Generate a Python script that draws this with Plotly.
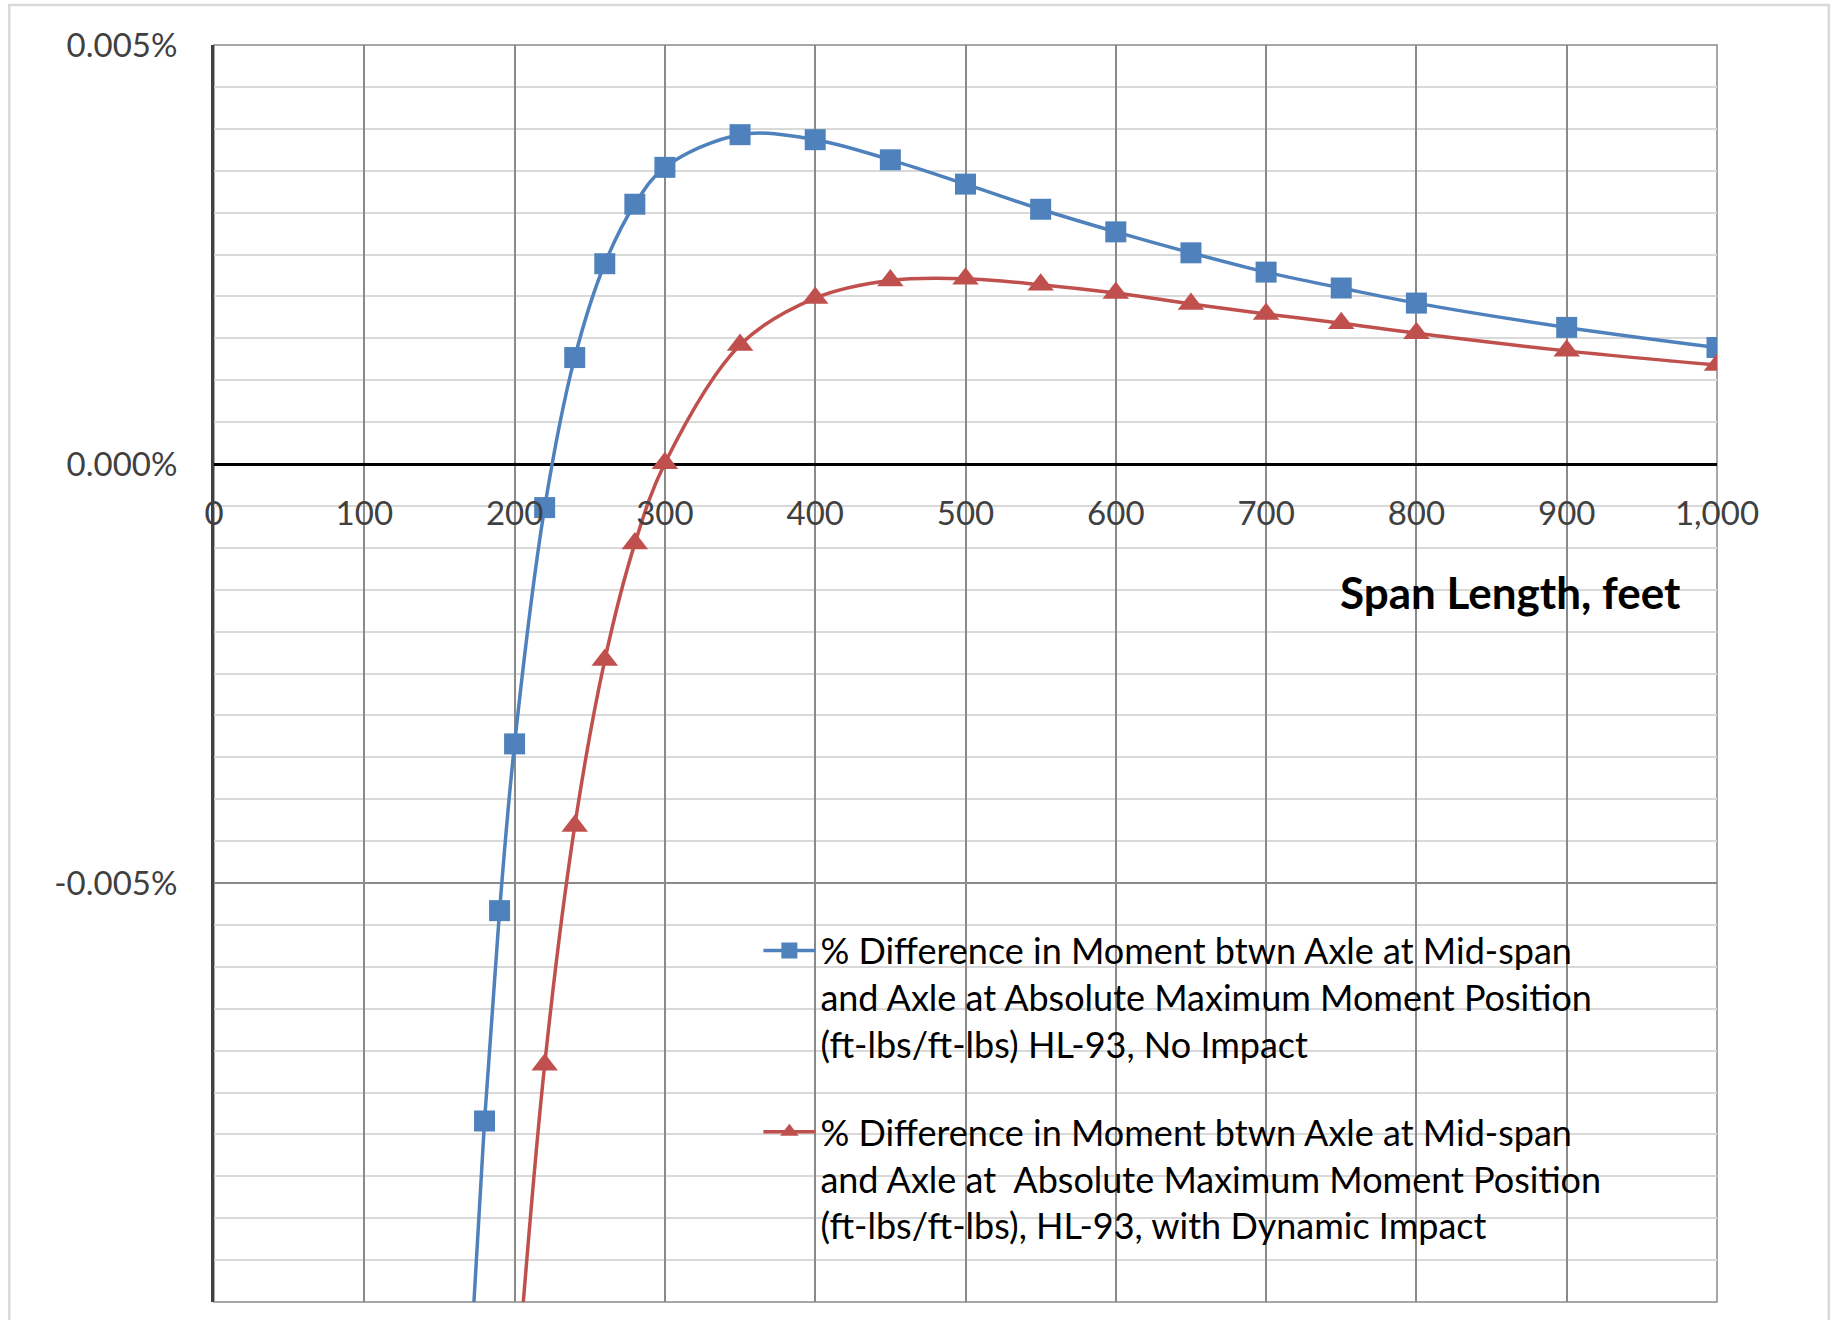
import plotly.graph_objects as go

# ---- data (values in percent) ----
span_no_impact = [170, 180, 190, 200, 220, 240, 260, 280, 300, 350, 400, 450, 500,
                  550, 600, 650, 700, 750, 800, 900, 1000]
pct_no_impact = [-0.0109, -0.00784, -0.00533, -0.00334, -0.00052, 0.00127, 0.00239,
                 0.00310, 0.00354, 0.00393, 0.00387, 0.00363, 0.00334, 0.00304,
                 0.00277, 0.00252, 0.00229, 0.00210, 0.00192, 0.00163, 0.00139]

span_impact = [200, 220, 240, 260, 280, 300, 350, 400, 450, 500, 550, 600, 650,
               700, 750, 800, 900, 1000]
pct_impact = [-0.0113, -0.00717, -0.00432, -0.00234, -0.00095, 0.00001, 0.00142,
              0.00198, 0.00219, 0.00221, 0.00214, 0.00204, 0.00191, 0.00179,
              0.00168, 0.00156, 0.00135, 0.00118]

name_no_impact = ("% Difference in Moment btwn Axle at Mid-span<br>"
                  "and Axle at Absolute Maximum Moment Position<br>"
                  "(ft-lbs/ft-lbs) HL-93, No Impact")
name_impact = ("% Difference in Moment btwn Axle at Mid-span<br>"
               "and Axle at  Absolute Maximum Moment Position<br>"
               "(ft-lbs/ft-lbs), HL-93, with Dynamic Impact")

x_tickvals = [0, 100, 200, 300, 400, 500, 600, 700, 800, 900, 1000]
x_ticktext = ["0", "100", "200", "300", "400", "500", "600", "700", "800", "900", "1,000"]
y_tickvals = [0.005, 0.0, -0.005, -0.010]
y_ticktext = ["0.005%", "0.000%", "-0.005%", "-0.010%"]
x_title = "Span Length, feet"

BLUE = "#4F81BD"
RED = "#C0504D"
FONT = "Lato"

fig = go.Figure()
fig.add_trace(go.Scatter(
    x=span_no_impact, y=pct_no_impact, name=name_no_impact, legendgroup="a",
    mode="lines+markers", line=dict(color=BLUE, width=3.5, shape="spline", smoothing=1),
    marker=dict(symbol="square", size=21, color=BLUE)))
fig.add_trace(go.Scatter(
    x=span_impact, y=pct_impact, name=name_impact, legendgroup="b",
    mode="lines+markers", line=dict(color=RED, width=3.5, shape="spline", smoothing=1),
    marker=dict(symbol="triangle-up", size=23, color=RED)))

fig.update_layout(
    width=1835, height=1320,
    margin=dict(l=213.5, r=118.2, t=45.4, b=18, autoexpand=False),
    paper_bgcolor="white", plot_bgcolor="white",
    font=dict(family=FONT, color="#404040"),
    showlegend=True,
    legend=dict(x=0.3622, y=0.3035, xanchor="left", yanchor="top",
                bgcolor="rgba(0,0,0,0)", font=dict(size=36, color="black", family=FONT),
                valign="top", tracegroupgap=38, itemwidth=52),
    xaxis=dict(range=[0, 1000], tickvals=x_tickvals, ticktext=x_ticktext,
               showgrid=True, gridcolor="#8a8a8a", gridwidth=1.5,
               zeroline=False, showline=False, ticks="", automargin=False,
               anchor="free", position=2/3, ticklabelstandoff=27,
               tickfont=dict(size=33, color="#404040", family=FONT)),
    yaxis=dict(range=[-0.010, 0.005], tickvals=y_tickvals, ticktext=y_ticktext,
               showgrid=True, gridcolor="#8a8a8a", gridwidth=1.5,
               minor=dict(dtick=0.0005, tick0=0, showgrid=True, gridcolor="#d9d9d9",
                          gridwidth=2, ticks=""),
               zeroline=True, zerolinecolor="black", zerolinewidth=3,
               showline=True, linecolor="#404040", linewidth=3, ticks="",
               ticklabelstandoff=27, automargin=False,
               tickfont=dict(size=33, color="#404040", family=FONT)),
    annotations=[dict(x=977.5, y=-0.00153, xref="x", yref="y", text="<b>" + x_title + "</b>",
                      showarrow=False, xanchor="right", yanchor="middle",
                      font=dict(size=44, color="black", family=FONT))],
    shapes=[
        dict(type="rect", xref="paper", yref="paper",
             x0=-0.1362, x1=1.0744, y0=-0.05, y1=1.0318,
             line=dict(color="#d9d9d9", width=2.5), layer="below"),
        dict(type="rect", xref="paper", yref="paper",
             x0=0, x1=1, y0=0, y1=1,
             line=dict(color="#8a8a8a", width=1.5), layer="between"),
    ],
)

fig.write_html("out.html", config={"displayModeBar": False},
               post_script="document.body.style.margin='0';document.body.style.overflow='hidden';")
